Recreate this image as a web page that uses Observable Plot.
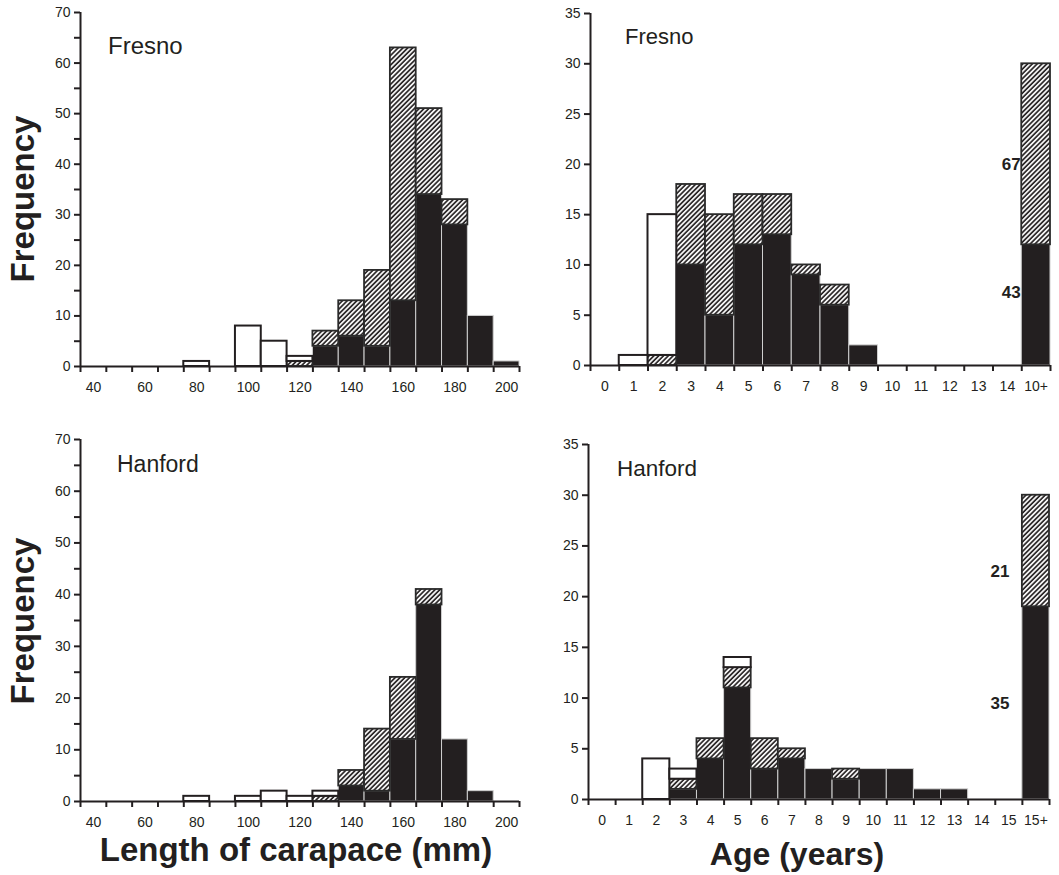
<!DOCTYPE html>
<html><head><meta charset="utf-8">
<script src="https://cdn.jsdelivr.net/npm/d3@7"></script>
<script src="https://cdn.jsdelivr.net/npm/@observablehq/plot@0.6"></script>
<style>
body{margin:0;background:#fff;}
#wrap{position:relative;width:1059px;height:875px;overflow:hidden;font-family:"Liberation Sans",Arial,Helvetica,sans-serif;}
#wrap svg.panel{position:absolute;}
#overlay{position:absolute;left:0;top:0;pointer-events:none;}
</style></head><body>
<svg width="0" height="0" style="position:absolute">
  <defs>
    <pattern id="hatch" patternUnits="userSpaceOnUse" width="3.4" height="3.4" patternTransform="rotate(45)">
      <rect width="3.4" height="3.4" fill="#231f20"/>
      <rect width="1.8" height="3.4" fill="#f4f4f4"/>
    </pattern>
  </defs>
</svg>
<div id="wrap"></div>
<script>
// ---------- DATA ----------
// Carapace length bins (mm, bin centres)
const lengthBins = [40,50,60,70,80,90,100,110,120,130,140,150,160,170,180,190,200];
const lengthTickLabels = [40,60,80,100,120,140,160,180,200];

// Fresno — length
const fresnoLenBlack = [0,0,0,0,0,0,0,0,0,4,6,4,13,34,28,10,1];
const fresnoLenHatch = [0,0,0,0,0,0,0,0,1,3,7,15,50,17,5,0,0];
const fresnoLenWhite = [0,0,0,0,1,0,8,5,1,0,0,0,0,0,0,0,0];

// Hanford — length
const hanfordLenBlack = [0,0,0,0,0,0,0,0,0,0,3,2,12,38,12,2,0];
const hanfordLenHatch = [0,0,0,0,0,0,0,0,0,1,3,12,12,3,0,0,0];
const hanfordLenWhite = [0,0,0,0,1,0,1,2,1,1,0,0,0,0,0,0,0];

// Fresno — age
const fresnoAgeLabels = ["0","1","2","3","4","5","6","7","8","9","10","11","12","13","14","10+"];
const fresnoAgeBlack = [0,0,0,10,5,12,13,9,6,2,0,0,0,0,0,12];
const fresnoAgeHatch = [0,0,1,8,10,5,4,1,2,0,0,0,0,0,0,18];
const fresnoAgeWhite = [0,1,14,0,0,0,0,0,0,0,0,0,0,0,0,0];
const fresnoNotes = ["67","43"];
const fresnoNoteY = [20,7.3];

// Hanford — age
const hanfordAgeLabels = ["0","1","2","3","4","5","6","7","8","9","10","11","12","13","14","15","15+"];
const hanfordAgeBlack = [0,0,0,1,4,11,3,4,3,2,3,3,1,1,0,0,19];
const hanfordAgeHatch = [0,0,0,1,2,2,3,1,0,1,0,0,0,0,0,0,11];
const hanfordAgeWhite = [0,0,4,1,0,1,0,0,0,0,0,0,0,0,0,0,0];
const hanfordNotes = ["21","35"];
const hanfordNoteY = [22.5,9.5];

const yTicksLen = [0,10,20,30,40,50,60,70];
const yMinorLen = [5,15,25,35,45,55,65];
const yTicksAge = [0,5,10,15,20,25,30,35];

// ---------- HELPERS ----------
const INK = "#231f20";
function stackRows(n, black, hatch, white, x1f, x2f) {
  const rows = {black: [], hatch: [], white: []};
  for (let i = 0; i < n; i++) {
    let base = 0;
    for (const [k, arr] of [["black", black], ["hatch", hatch], ["white", white]]) {
      const v = arr[i];
      if (v > 0) { rows[k].push({x1: x1f(i), x2: x2f(i), y1: base, y2: base + v}); base += v; }
    }
  }
  return rows;
}

function panel(cfg) {
  const {left, top, width, height, mL, mR, mT, mB, xDomain, yMax, yTicks, yMinor,
         edges, labelPos, labelFmt, rows, notes} = cfg;
  const marks = [
    Plot.rect(rows.black, {x1: "x1", x2: "x2", y1: "y1", y2: "y2", fill: INK, stroke: "#cfcfcf", strokeWidth: 1}),
    Plot.rect(rows.hatch, {x1: "x1", x2: "x2", y1: "y1", y2: "y2", fill: "url(#hatch)", stroke: "#2a2a2a", strokeWidth: 1.8}),
    Plot.rect(rows.white, {x1: "x1", x2: "x2", y1: "y1", y2: "y2", fill: "white", stroke: INK, strokeWidth: 2}),
    Plot.ruleY([0], {stroke: INK, strokeWidth: 2}),
    Plot.ruleX([xDomain[0]], {y1: 0, y2: yMax, stroke: INK, strokeWidth: 2}),
    Plot.axisX({ticks: edges, tickSize: 6, strokeWidth: 2, tickFormat: () => "", label: null}),
    Plot.axisX({ticks: labelPos, tickSize: 0, tickPadding: 16, tickFormat: labelFmt, fontSize: 14, label: null}),
    Plot.axisY({ticks: yTicks, tickSize: 6, tickPadding: 4, strokeWidth: 2, fontSize: 14, label: null}),
  ];
  if (yMinor) marks.push(Plot.axisY({ticks: yMinor, tickSize: 6, strokeWidth: 2, tickFormat: () => "", label: null}));
  if (notes) marks.push(Plot.text(notes.text, {x: () => notes.x, y: (d, i) => notes.y[i], text: d => d,
      textAnchor: "end", dx: notes.dx, fontWeight: "bold", fontSize: 17, fill: INK}));
  const svg = Plot.plot({
    width, height, marginLeft: mL, marginRight: mR, marginTop: mT, marginBottom: mB,
    x: {domain: xDomain}, y: {domain: [0, yMax]},
    style: {fontFamily: "'Liberation Sans', Arial, Helvetica, sans-serif", fontSize: "14px", color: INK, background: "transparent", overflow: "visible"},
    marks
  });
  svg.classList.add("panel");
  svg.style.left = left + "px";
  svg.style.top = top + "px";
  document.getElementById("wrap").appendChild(svg);
}

// ---------- LENGTH PANELS ----------
const lenEdges = lengthBins.map(d => d - 5).concat([lengthBins[lengthBins.length - 1] + 5]);
const lenDomain = [lenEdges[0], lenEdges[lenEdges.length - 1]];
const nL = lengthBins.length;

panel({left: 0, top: 0, width: 530, height: 400, mL: 80, mR: 11, mT: 12, mB: 34,
  xDomain: lenDomain, yMax: 70, yTicks: yTicksLen, yMinor: yMinorLen,
  edges: lenEdges, labelPos: lengthTickLabels, labelFmt: d => String(d),
  rows: stackRows(nL, fresnoLenBlack, fresnoLenHatch, fresnoLenWhite, i => lengthBins[i] - 5, i => lengthBins[i] + 5)});

panel({left: 0, top: 420, width: 530, height: 410, mL: 80, mR: 11, mT: 19, mB: 29,
  xDomain: lenDomain, yMax: 70, yTicks: yTicksLen, yMinor: yMinorLen,
  edges: lenEdges, labelPos: lengthTickLabels, labelFmt: d => String(d),
  rows: stackRows(nL, hanfordLenBlack, hanfordLenHatch, hanfordLenWhite, i => lengthBins[i] - 5, i => lengthBins[i] + 5)});

// ---------- AGE PANELS ----------
function agePanel(pos, labels, black, hatch, white, notes, noteY, dx) {
  const n = labels.length;
  const edges = d3.range(n + 1);
  const centres = d3.range(n).map(i => i + 0.5);
  panel({...pos, xDomain: [0, n], yMax: 35, yTicks: yTicksAge, yMinor: null,
    edges, labelPos: centres, labelFmt: d => labels[Math.floor(d)],
    rows: stackRows(n, black, hatch, white, i => i, i => i + 1),
    notes: {text: notes, y: noteY, x: n - 1, dx}});
}
agePanel({left: 530, top: 0, width: 529, height: 400, mL: 60, mR: 9, mT: 13, mB: 35},
  fresnoAgeLabels, fresnoAgeBlack, fresnoAgeHatch, fresnoAgeWhite, fresnoNotes, fresnoNoteY, -1);
agePanel({left: 530, top: 420, width: 529, height: 410, mL: 58, mR: 10, mT: 24, mB: 31},
  hanfordAgeLabels, hanfordAgeBlack, hanfordAgeHatch, hanfordAgeWhite, hanfordNotes, hanfordNoteY, -13);

// ---------- TITLES ----------
const ov = d3.select("#wrap").append("svg").attr("id", "overlay").attr("width", 1059).attr("height", 875)
  .style("font-family", "'Liberation Sans', Arial, Helvetica, sans-serif").attr("fill", INK);
ov.append("text").attr("x", 108).attr("y", 54).attr("font-size", 24).text("Fresno");
ov.append("text").attr("x", 625).attr("y", 44).attr("font-size", 22).text("Fresno");
ov.append("text").attr("x", 117).attr("y", 472).attr("font-size", 23).text("Hanford");
ov.append("text").attr("x", 617).attr("y", 476).attr("font-size", 22.5).text("Hanford");
ov.append("text").attr("transform", "translate(34,199) rotate(-90)").attr("text-anchor", "middle")
  .attr("font-size", 33).attr("font-weight", "bold").text("Frequency");
ov.append("text").attr("transform", "translate(34,621) rotate(-90)").attr("text-anchor", "middle")
  .attr("font-size", 33).attr("font-weight", "bold").text("Frequency");
ov.append("text").attr("x", 296).attr("y", 861).attr("text-anchor", "middle")
  .attr("font-size", 33).attr("font-weight", "bold").text("Length of carapace (mm)");
ov.append("text").attr("x", 797).attr("y", 865).attr("text-anchor", "middle")
  .attr("font-size", 32).attr("font-weight", "bold").text("Age (years)");
</script>
</body></html>
